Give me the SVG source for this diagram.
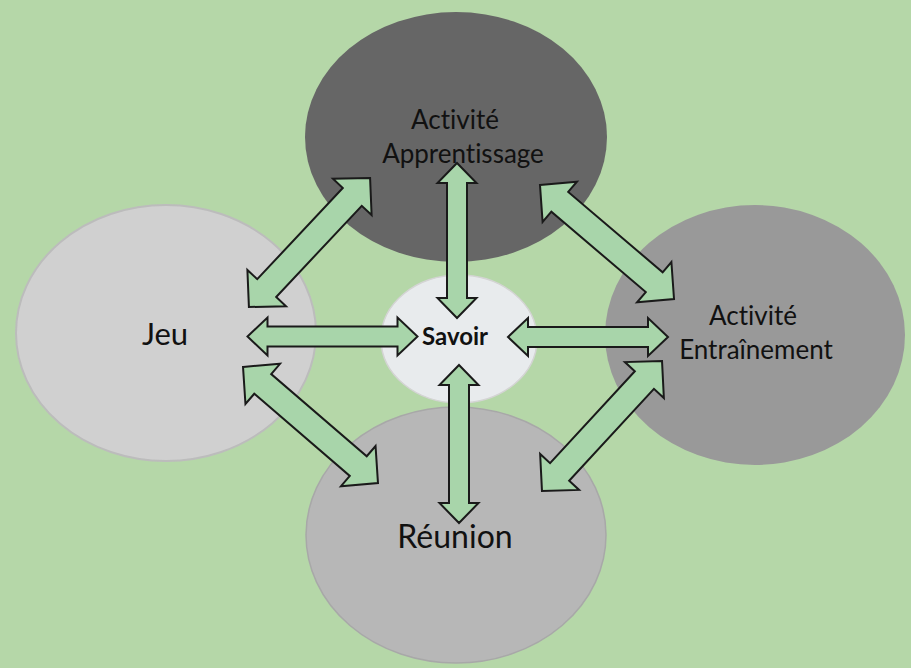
<svg xmlns="http://www.w3.org/2000/svg" width="911" height="668" viewBox="0 0 911 668">
<style>
.lbl{font-family:Lato,"Liberation Sans",sans-serif;fill:#111;text-anchor:middle;font-variant-ligatures:none}
.arr{fill:#a8d5aa;stroke:#1a1a1a;stroke-width:2;stroke-linejoin:miter}
</style>
<rect width="911" height="668" fill="#b5d7a8"/>
<g id="node-apprentissage">
<ellipse cx="456" cy="137" rx="151" ry="125" fill="#666666"/>
<text class="lbl" x="455" y="129" font-size="26">Activité</text>
<text class="lbl" x="463" y="163" font-size="26">Apprentissage</text>
</g>
<g id="node-jeu">
<ellipse cx="166" cy="333" rx="150" ry="128" fill="#d0d0d0" stroke="#bcbcbc" stroke-width="2"/>
<text class="lbl" x="165" y="345" font-size="31">Jeu</text>
</g>
<g id="node-entrainement">
<ellipse cx="755" cy="335" rx="150" ry="130" fill="#999999"/>
<text class="lbl" x="753" y="325" font-size="26">Activité</text>
<text class="lbl" x="756" y="359" font-size="26">Entraînement</text>
</g>
<g id="node-reunion">
<ellipse cx="456" cy="535" rx="150" ry="128" fill="#b7b7b7" stroke="#a8a8a8" stroke-width="1.5"/>
<text class="lbl" x="455" y="548" font-size="32">Réunion</text>
</g>
<g id="node-savoir">
<ellipse cx="459" cy="339" rx="78" ry="64" fill="#e8ebed" stroke="#d4d4d4" stroke-width="1.5"/>
<text class="lbl" x="455" y="345" font-size="24" font-weight="bold">Savoir</text>
</g>
<g id="connectors">
<path class="arr" transform="translate(332.5,336.5)" d="M-85,0 L-65,-19 L-65,-10 L65,-10 L65,-19 L85,0 L65,19 L65,10 L-65,10 L-65,19 Z"/>
<path class="arr" transform="translate(588,337)" d="M-80,0 L-60,-19 L-60,-10 L60,-10 L60,-19 L80,0 L60,19 L60,10 L-60,10 L-60,19 Z"/>
<path class="arr" transform="translate(457,240.5) rotate(90)" d="M-77.5,0 L-57.5,-19.5 L-57.5,-10 L57.5,-10 L57.5,-19.5 L77.5,0 L57.5,19.5 L57.5,10 L-57.5,10 L-57.5,19.5 Z"/>
<path class="arr" transform="translate(459,444) rotate(90)" d="M-79,0 L-59,-19.5 L-59,-10 L59,-10 L59,-19.5 L79,0 L59,19.5 L59,10 L-59,10 L-59,19.5 Z"/>
<path class="arr" transform="translate(309.5,242.5) rotate(-46.8)" d="M-88.5,0 L-62.5,-26.5 L-62.5,-13 L62.5,-13 L62.5,-26.5 L88.5,0 L62.5,26.5 L62.5,13 L-62.5,13 L-62.5,26.5 Z"/>
<path class="arr" transform="translate(607,242) rotate(40.4)" d="M-88,0 L-62,-26.5 L-62,-13 L62,-13 L62,-26.5 L88,0 L62,26.5 L62,13 L-62,13 L-62,26.5 Z"/>
<path class="arr" transform="translate(310.5,425) rotate(40.7)" d="M-89,0 L-63,-26.5 L-63,-13 L63,-13 L63,-26.5 L89,0 L63,26.5 L63,13 L-63,13 L-63,26.5 Z"/>
<path class="arr" transform="translate(602,426) rotate(-47.3)" d="M-88.5,0 L-62.5,-26.5 L-62.5,-13 L62.5,-13 L62.5,-26.5 L88.5,0 L62.5,26.5 L62.5,13 L-62.5,13 L-62.5,26.5 Z"/>
</g>
</svg>
